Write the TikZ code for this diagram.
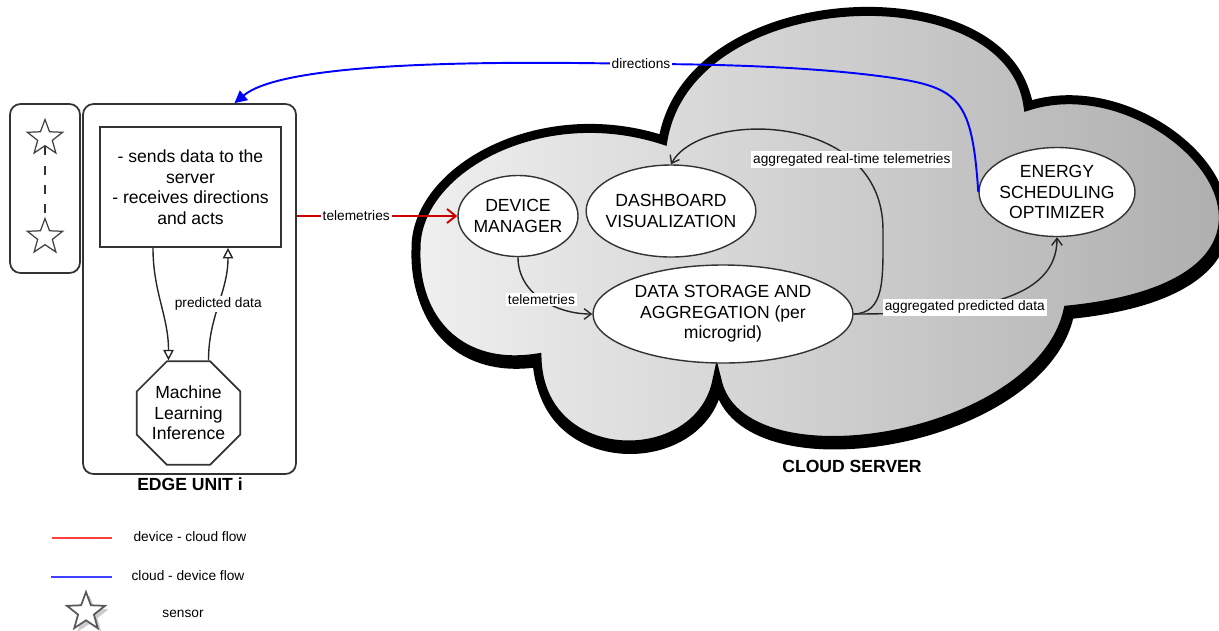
\documentclass[tikz,border=0pt]{standalone}
\usepackage{fontspec}
\setmainfont{Liberation Sans}
\usetikzlibrary{shapes.geometric,arrows.meta,shadows}

\begin{document}
\begin{tikzpicture}[>={Straight Barb[length=4pt,width=6pt]},
	  every node/.style={font=\fontsize{10}{11.7}\selectfont,align=center},
	  box/.style={draw=black!80,line width=1pt,rounded corners=6pt,inner sep=0},
	  blob/.style={ellipse,draw=black!80,line width=0.8pt,fill=white,inner sep=-3pt},
	  lbl/.style={font=\fontsize{7.8}{9}\selectfont,fill=white,text=black,inner sep=1pt},
	  heading/.style={font=\fontsize{10}{12}\selectfont\bfseries},
	  sensor/.style={star,star points=5,star point ratio=2.4,draw=black!75,fill=white,line width=0.7pt,minimum size=0.74cm,inner sep=0},
	  link/.style={line width=0.8pt,black!85},
	  upflow/.style={line width=1.1pt,red!80!black},
	  downflow/.style={line width=1.1pt,blue}]
	  \useasboundingbox (0,0) rectangle (24.38,-12.6);
	  \draw[line width=0.18cm,left color=gray!12,right color=gray!72,
	    preaction={draw=black,fill=black,line width=0.18cm,transform canvas={shift={(0.03,-0.09)}}}]
	    (13.26,-2.8) .. controls (13.8,0.4) and (20.2,0.6) .. (20.56,-2.12)
	    .. controls (23.4,-1.2) and (27.3,-5.6) .. (21.36,-6.2)
	    .. controls (20.8,-8.8) and (14.8,-9.8) .. (14.34,-7.6)
	    .. controls (14.0,-9.4) and (10.8,-9.4) .. (10.74,-7.16)
	    .. controls (9.2,-7.4) and (8.28,-6.4) .. (8.32,-5.0)
	    .. controls (8.28,-3.4) and (10.8,-2.0) .. cycle;
	  \node[box,minimum width=1.4cm,minimum height=3.38cm] (sens) at (0.9,-3.77) {};
	  \node[box,minimum width=4.26cm,minimum height=7.4cm] (edge) at (3.79,-5.78) {};
	  \node[sensor] (s1) at (0.9,-2.76) {};
	  \node[sensor] (s2) at (0.9,-4.74) {};
	  \draw[black!80,line width=1.1pt,dash pattern=on 5pt off 6pt] (s1) -- (s2);
	  \node[draw=black!80,line width=1pt,minimum width=3.62cm,minimum height=2.4cm] (info) at (3.81,-3.74) {- sends data to the\\server\\- receives directions\\and acts};
	  \node[regular polygon,regular polygon sides=8,draw=black!80,line width=1pt,minimum size=2.19cm,inner sep=0] (ml) at (3.77,-8.26) {Machine\\Learning\\Inference};
	  \draw[link,-{Triangle[open,length=6pt,width=6pt]}] ([xshift=-0.75cm]info.south) to[out=-90,in=90] ([xshift=-0.4cm]ml.north);
	  \draw[link,-{Triangle[open,length=6pt,width=6pt]}] ([xshift=0.4cm]ml.north) to[out=90,in=-90] node[lbl] {predicted data} ([xshift=0.75cm]info.south);
	  \node[heading] (edgetitle) at (3.8,-9.68) {EDGE UNIT i};
	  \node[blob,minimum width=2.4cm,minimum height=1.62cm] (dm) at (10.36,-4.32) {DEVICE\\MANAGER};
	  \node[blob,minimum width=3.22cm,minimum height=1.84cm] (dashb) at (13.42,-4.22) {DASHBOARD\\VISUALIZATION};
	  \node[blob,minimum width=5.2cm,minimum height=1.96cm] (ds) at (14.46,-6.28) {DATA STORAGE AND\\AGGREGATION (per\\microgrid)};
	  \node[blob,minimum width=3.12cm,minimum height=1.78cm] (en) at (21.14,-3.84) {ENERGY\\SCHEDULING\\OPTIMIZER};
	  \node[heading] (cloudtitle) at (17.04,-9.32) {CLOUD SERVER};
	  \draw[link,->] (dm.south) to[out=-90,in=180] node[lbl,pos=0.5] {telemetries} (ds.west);
	  \draw[link,->] (ds.east) .. controls (17.7,-6.26) and (17.66,-5.6) .. (17.66,-4.6)
	    .. controls (17.66,-2.2) and (14.0,-2.2) .. node[lbl,pos=0.26] {aggregated real-time telemetries} (dashb.north);
	  \draw[link,->] (ds.east) .. controls (19.5,-6.28) and (21.14,-6.0) .. node[lbl,pos=0.35] {aggregated predicted data} (en.south);
	  \draw[upflow,-{Straight Barb[length=5pt,width=8pt]}] (edge.east |- dm.west) -- node[lbl,pos=0.37] {telemetries} (dm.west);
	  \draw[downflow,-{Triangle[length=7pt,width=7pt]}] (en.west) .. controls (19.44,-2.0) and (19.2,-1.75) .. (17.8,-1.55)
	    .. controls (16.4,-1.35) and (14.5,-1.28) .. (12.82,-1.28) node[lbl] {directions}
	    .. controls (9.0,-1.2) and (5.6,-1.3) .. ([xshift=0.9cm]edge.north);
	  \draw[line width=1.2pt,red!75] (1.04,-10.76) -- (2.24,-10.76);
	  \draw[line width=1.2pt,blue!75] (1.02,-11.54) -- (2.24,-11.54);
	  \node[lbl] (legred) at (3.8,-10.74) {device - cloud flow};
	  \node[lbl] (legblue) at (3.76,-11.52) {cloud - device flow};
	  \node[sensor,minimum size=0.8cm,line width=1pt,draw=black!65,drop shadow={shadow xshift=2pt,shadow yshift=-2pt,fill=black!40}] (legstar) at (1.72,-12.24) {};
	  \node[lbl] (legsensor) at (3.66,-12.28) {sensor};
	\end{tikzpicture}
\end{document}
